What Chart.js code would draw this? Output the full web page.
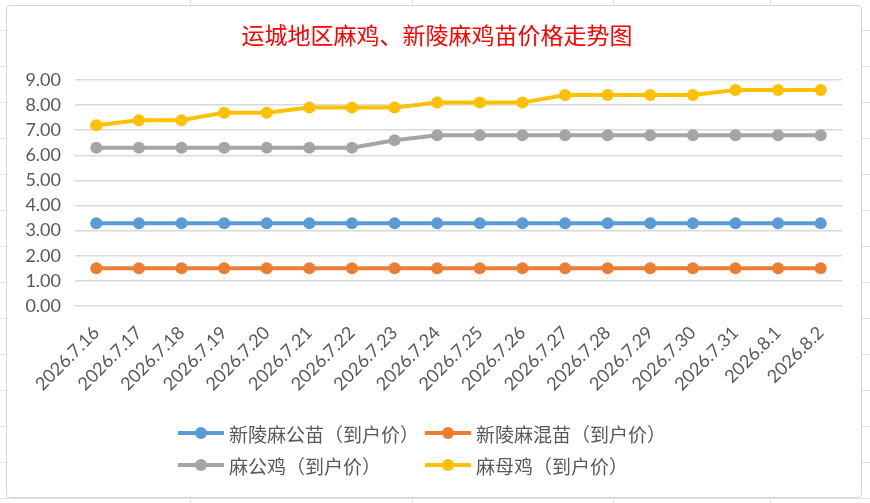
<!DOCTYPE html>
<html>
<head>
<meta charset="utf-8">
<script src="https://cdn.jsdelivr.net/npm/chart.js@4.4.1/dist/chart.umd.min.js"></script>
<style>
    html, body { margin: 0; padding: 0; }
    body {
        width: 870px;
        height: 503px;
        position: relative;
        overflow: hidden;
        background: #fff repeating-linear-gradient(to bottom, transparent 0, transparent 30px, #e3e3e3 30px, #e3e3e3 31px, transparent 31px, transparent 36px);
    }
    .sheet-col { position: absolute; top: 0; width: 1px; height: 503px; background: #e3e3e3; }
    #frame {
        position: absolute;
        left: 6px;
        top: 5px;
        width: 854px;
        height: 491px;
        border: 1px solid #d4d4d4;
        border-radius: 4px;
        background: #fff;
    }
    #chart { position: absolute; left: 0; top: 0; }
    #title {
        position: absolute;
        left: 0;
        width: 874px;
        top: 19px;
        text-align: center;
        font-family: "Noto Sans CJK SC", sans-serif;
        font-size: 23px;
        line-height: 30px;
        color: #ff0000;
        white-space: nowrap;
    }
    .legend-item {
        position: absolute;
        display: flex;
        align-items: center;
        height: 26px;
        font-family: "Noto Sans CJK SC", sans-serif;
        font-size: 19px;
        color: #595959;
        white-space: nowrap;
    }
    .legend-line {
        position: relative;
        width: 46px;
        height: 4px;
        margin-right: 5px;
    }
    .legend-dot {
        position: absolute;
        left: 17px;
        top: -4px;
        width: 12px;
        height: 12px;
        border-radius: 50%;
    }
</style>
</head>
<body>
<div class="sheet-col" style="left:190px"></div>
<div class="sheet-col" style="left:412px"></div>
<div class="sheet-col" style="left:613px"></div>
<div class="sheet-col" style="left:770px"></div>
<div id="frame"></div>
<canvas id="chart" width="870" height="503"></canvas>
<div id="title"></div>
<div id="legend"></div>
<script>
const chartTitle = '运城地区麻鸡、新陵麻鸡苗价格走势图';

const dates = [
    '2026.7.16', '2026.7.17', '2026.7.18', '2026.7.19', '2026.7.20', '2026.7.21',
    '2026.7.22', '2026.7.23', '2026.7.24', '2026.7.25', '2026.7.26', '2026.7.27',
    '2026.7.28', '2026.7.29', '2026.7.30', '2026.7.31', '2026.8.1', '2026.8.2'
];

const maleChickPrice  = [3.3, 3.3, 3.3, 3.3, 3.3, 3.3, 3.3, 3.3, 3.3, 3.3, 3.3, 3.3, 3.3, 3.3, 3.3, 3.3, 3.3, 3.3];
const mixedChickPrice = [1.5, 1.5, 1.5, 1.5, 1.5, 1.5, 1.5, 1.5, 1.5, 1.5, 1.5, 1.5, 1.5, 1.5, 1.5, 1.5, 1.5, 1.5];
const roosterPrice    = [6.3, 6.3, 6.3, 6.3, 6.3, 6.3, 6.3, 6.6, 6.8, 6.8, 6.8, 6.8, 6.8, 6.8, 6.8, 6.8, 6.8, 6.8];
const henPrice        = [7.2, 7.4, 7.4, 7.7, 7.7, 7.9, 7.9, 7.9, 8.1, 8.1, 8.1, 8.4, 8.4, 8.4, 8.4, 8.6, 8.6, 8.6];

const seriesNames = ['新陵麻公苗（到户价）', '新陵麻混苗（到户价）', '麻公鸡（到户价）', '麻母鸡（到户价）'];
const seriesColors = ['#5b9bd5', '#ed7d31', '#a5a5a5', '#ffc000'];

const yMin = 0;
const yMax = 9;
const yStep = 1;

const makeDataset = (label, data, color) => ({
    label: label,
    data: data,
    borderColor: color,
    backgroundColor: color,
    borderWidth: 4,
    pointRadius: 6,
    pointHoverRadius: 6,
    pointBorderWidth: 0,
    pointBackgroundColor: color,
    tension: 0,
    fill: false
});

const tickFont = { family: 'Lato, "Liberation Sans", sans-serif', size: 18 };

document.getElementById('title').textContent = chartTitle;

const chartInstance = new Chart(document.getElementById('chart').getContext('2d'), {
    type: 'line',
    data: {
        labels: dates,
        datasets: [
            makeDataset(seriesNames[0], maleChickPrice, seriesColors[0]),
            makeDataset(seriesNames[1], mixedChickPrice, seriesColors[1]),
            makeDataset(seriesNames[2], roosterPrice, seriesColors[2]),
            makeDataset(seriesNames[3], henPrice, seriesColors[3])
        ]
    },
    options: {
        responsive: false,
        animation: false,
        devicePixelRatio: 1,
        layout: {
            // top leaves room for the html title, bottom for the legend
            padding: { left: 0, right: 28, top: 80, bottom: 97 }
        },
        plugins: {
            legend: { display: false },
            tooltip: { enabled: false },
            title: { display: false }
        },
        scales: {
            x: {
                offset: true,
                grid: { display: false, drawTicks: false },
                border: { display: false },
                ticks: {
                    autoSkip: false,
                    minRotation: 45,
                    maxRotation: 45,
                    padding: 16,
                    color: '#595959',
                    font: tickFont
                },
                afterFit: (scale) => { scale.height = 100; }
            },
            y: {
                min: yMin,
                max: yMax,
                grid: { color: '#d9d9d9', lineWidth: 1.5, drawTicks: false },
                border: { display: false },
                ticks: {
                    stepSize: yStep,
                    padding: 14,
                    color: '#595959',
                    font: tickFont,
                    callback: (value) => Number(value).toFixed(2)
                },
                afterFit: (scale) => { scale.width = 75; }
            }
        }
    }
});

// legend laid out in two fixed columns, like the original
const legendSlots = [
    { left: 178, top: 420 },
    { left: 425, top: 420 },
    { left: 178, top: 452 },
    { left: 425, top: 452 }
];

const legendBox = document.getElementById('legend');
chartInstance.data.datasets.forEach((ds, i) => {
    const item = document.createElement('div');
    item.className = 'legend-item';
    item.style.left = legendSlots[i].left + 'px';
    item.style.top = legendSlots[i].top + 'px';

    const line = document.createElement('span');
    line.className = 'legend-line';
    line.style.background = ds.borderColor;
    const dot = document.createElement('span');
    dot.className = 'legend-dot';
    dot.style.background = ds.borderColor;
    line.appendChild(dot);

    const text = document.createElement('span');
    text.textContent = ds.label;

    item.appendChild(line);
    item.appendChild(text);
    legendBox.appendChild(item);
});
</script>
</body>
</html>
